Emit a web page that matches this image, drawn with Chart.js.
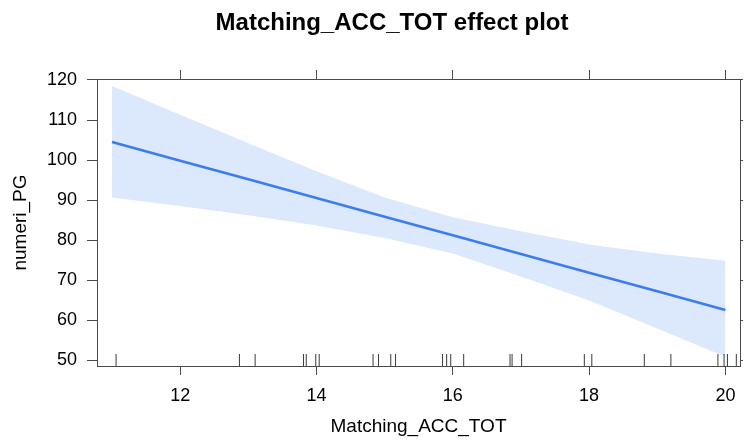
<!DOCTYPE html>
<html><head><meta charset="utf-8">
<script src="https://cdn.jsdelivr.net/npm/chart.js@4/dist/chart.umd.min.js"></script>
<style>html,body{margin:0;padding:0;background:#fff}#wrap{width:747px;height:441px}</style>
</head><body><div id="wrap"><canvas id="c" width="747" height="441"></canvas></div>
<script>
// ---- data ----
const effectX     = [11, 12, 13, 14, 15, 16, 17, 18, 19, 20];
const fitValues   = [104.5, 99.8, 95.2, 90.5, 85.8, 81.2, 76.5, 71.8, 67.2, 62.5];
const upperValues = [118.5, 111.3, 104.2, 97.2, 90.6, 85.7, 82.2, 78.9, 76.6, 74.8];
const lowerValues = [90.6, 88.5, 86.2, 83.6, 80.5, 76.6, 70.9, 64.9, 57.9, 50.8];
const rugX = [11.06, 12.87, 13.10, 13.81, 13.85, 13.99, 14.04, 14.83, 14.91, 15.09, 15.16,
              15.85, 15.91, 15.97, 16.16, 16.84, 16.87, 17.01, 17.93, 18.04, 18.81, 19.20,
              19.89, 19.98, 20.03, 20.16];
const xTickValues = [12, 14, 16, 18, 20];
const yTickValues = [50, 60, 70, 80, 90, 100, 110, 120];
const titleText = 'Matching_ACC_TOT effect plot';
const xTitle = 'Matching_ACC_TOT';
const yTitle = 'numeri_PG';

const F = "'Liberation Sans', Arial, sans-serif";
const AX = '#4a4a4a';
const X_MIN = 10.78, X_MAX = 20.214, Y_MIN = 48.5, Y_MAX = 120.25;

const pts = (xs, ys) => xs.map((x, i) => ({x: x, y: ys[i]}));
const setTicks = vals => s => { s.ticks = vals.map(v => ({value: v})); };

new Chart(document.getElementById('c').getContext('2d'), {
  type: 'line',
  data: {
    datasets: [
      {label: 'upper', data: pts(effectX, upperValues), borderWidth: 0, pointRadius: 0,
       fill: '+1', backgroundColor: '#dce8fb', tension: 0, order: 3},
      {label: 'lower', data: pts(effectX, lowerValues), borderWidth: 0, pointRadius: 0,
       fill: false, tension: 0, order: 3},
      {label: 'fit', data: pts(effectX, fitValues), borderColor: '#3b7cf0', borderWidth: 2.5,
       pointRadius: 0, fill: false, tension: 0, order: 1},
      {label: 'rug', data: rugX.map(x => ({x: x, y: yTickValues[0]})), showLine: false,
       pointStyle: 'line', pointRotation: 90, pointRadius: 6, pointBorderColor: '#3a3a3a',
       pointBorderWidth: 1, pointBackgroundColor: '#3a3a3a', clip: false, order: 0}
    ]
  },
  options: {
    responsive: false, animation: false, devicePixelRatio: 1,
    layout: {padding: 0},
    plugins: {
      legend: {display: false}, tooltip: {enabled: false},
      title: {display: true, text: titleText, color: '#000',
              font: {size: 24, weight: 'bold', family: F}, padding: {top: 9, bottom: 0}}
    },
    scales: {
      x: {type: 'linear', position: 'bottom', min: X_MIN, max: X_MAX,
          afterBuildTicks: setTicks(xTickValues), afterFit: s => { s.height = 75; },
          grid: {drawOnChartArea: false, drawTicks: true, tickLength: 9, color: AX},
          border: {display: true, color: AX, width: 1},
          ticks: {font: {size: 18, family: F}, color: '#000', padding: 10, maxRotation: 0, autoSkip: false},
          title: {display: true, text: xTitle, color: '#000', font: {size: 19, family: F},
                  padding: {top: 0, bottom: 3}}},
      x2: {type: 'linear', position: 'top', min: X_MIN, max: X_MAX,
           afterBuildTicks: setTicks(xTickValues), afterFit: s => { s.height = 41.2; },
           grid: {drawOnChartArea: false, drawTicks: true, tickLength: 9, color: AX},
           border: {display: true, color: AX, width: 1},
           ticks: {display: false}},
      y: {type: 'linear', position: 'left', min: Y_MIN, max: Y_MAX,
          afterBuildTicks: setTicks(yTickValues), afterFit: s => { s.width = 97; },
          grid: {drawOnChartArea: false, drawTicks: true, tickLength: 10, color: AX},
          border: {display: true, color: AX, width: 1},
          ticks: {font: {size: 18, family: F}, color: '#000', padding: 10, autoSkip: false},
          title: {display: true, text: yTitle, color: '#000', font: {size: 19, family: F},
                  padding: {top: 9.5, bottom: 0}}},
      y2: {type: 'linear', position: 'right', min: Y_MIN, max: Y_MAX,
           afterBuildTicks: setTicks(yTickValues), afterFit: s => { s.width = 3; },
           grid: {drawOnChartArea: false, drawTicks: true, tickLength: 3, color: AX},
           border: {display: true, color: AX, width: 1},
           ticks: {display: false}}
    }
  },
  plugins: [{id: 'shiftTitle', afterLayout(chart) { if (chart.titleBlock) { chart.titleBlock.left += 37; } }}]
});
</script></body></html>
